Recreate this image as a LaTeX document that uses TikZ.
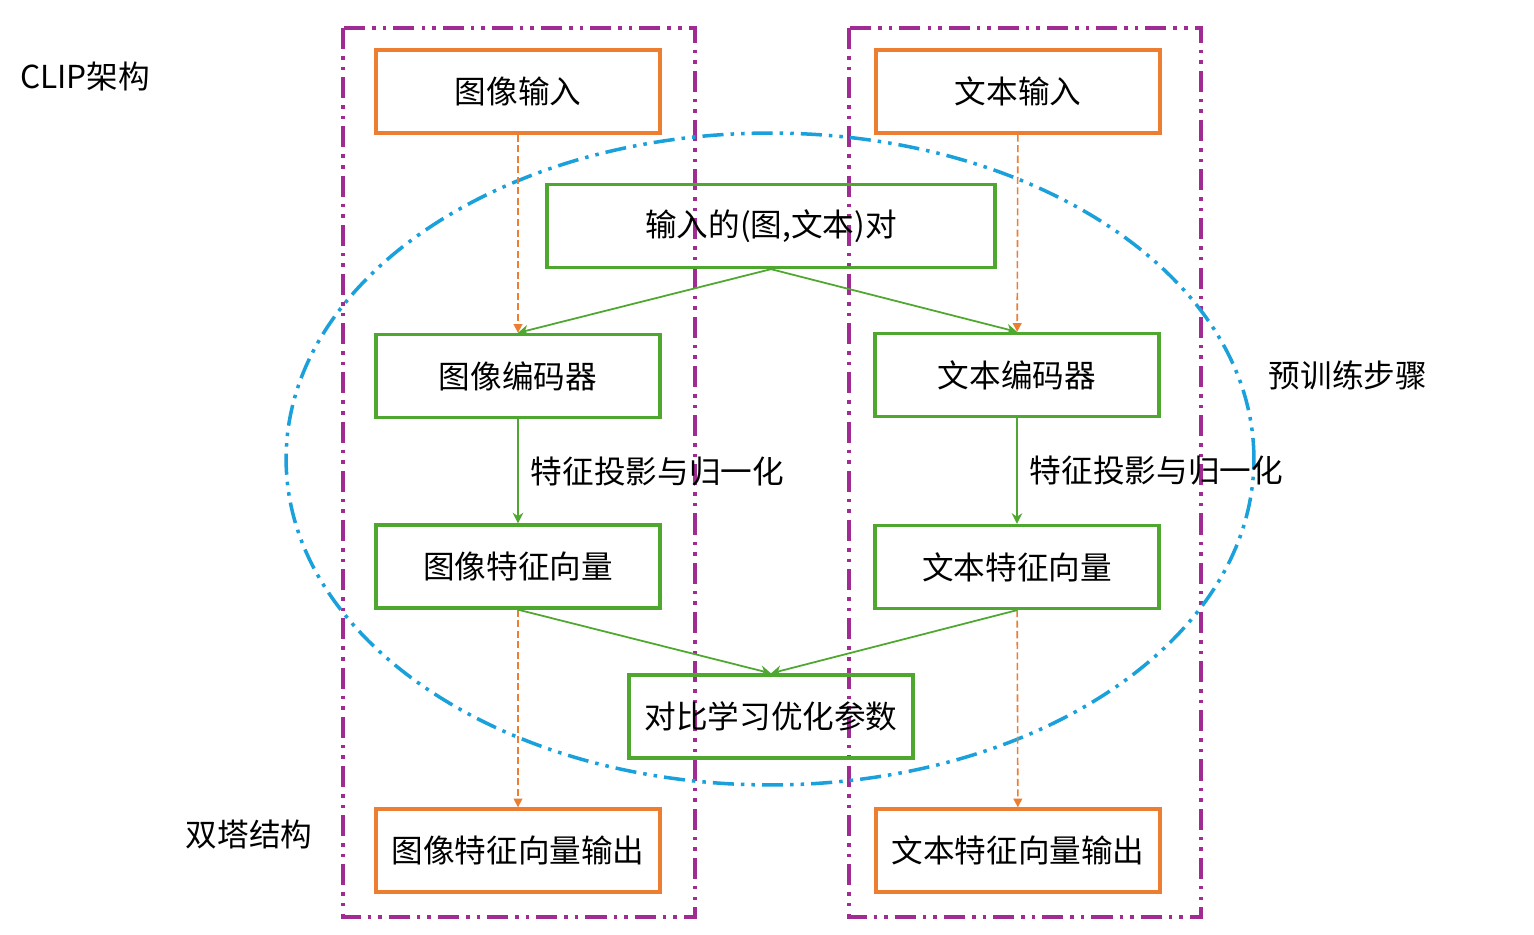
\documentclass[tikz,border=0pt]{standalone}
\usepackage{fontspec}
\setmainfont{Noto Sans CJK SC}
\usetikzlibrary{arrows.meta}
\definecolor{clipOrange}{HTML}{ED7D31}
\definecolor{clipGreen}{HTML}{4EA72E}
\definecolor{clipPurple}{HTML}{A02B93}
\definecolor{clipBlue}{HTML}{1AA0DA}
\tikzset{
  iobox/.style={draw=clipOrange, line width=1.9pt, rectangle, align=center, minimum width=5.68cm, minimum height=1.66cm},
  stepbox/.style={draw=clipGreen, line width=1.9pt, rectangle, align=center, minimum width=5.68cm, minimum height=1.66cm},
  tower/.style={draw=clipPurple, line width=2pt, dash pattern=on 12pt off 4pt on 2pt off 4pt on 2pt off 4pt},
  phase/.style={draw=clipBlue, line width=2pt, dash pattern=on 12pt off 4pt on 2pt off 4pt on 2pt off 4pt},
  flow/.style={draw=clipGreen, line width=1pt, -{Stealth[length=6pt,width=6pt]}},
  pass/.style={draw=clipOrange, line width=0.9pt, dash pattern=on 4pt off 2pt, -{Triangle[length=5pt,width=5pt]}}
}
\begin{document}
\begin{tikzpicture}[x=0.02cm, y=-0.02cm, font=\fontsize{18}{21}\selectfont]
\useasboundingbox (0,0) rectangle (1534,935);
% two towers and the training region
\draw[tower] (343,28) rectangle (695,917);
\draw[tower] (849,28) rectangle (1201,917);
\draw[phase] (770,459) ellipse [x radius=9.68cm, y radius=6.52cm];
% side labels
\node (arch) at (85,77) {CLIP架构};
\node (twin) at (249,834) {双塔结构};
\node (train) at (1348,375) {预训练步骤};
% boxes
\node[iobox] (imgin) at (518,91.5) {图像输入};
\node[iobox] (txtin) at (1018,91.5) {文本输入};
\node[stepbox, minimum width=8.96cm] (pair) at (771,226) {输入的(图,文本)对};
\node[stepbox] (imgenc) at (518,376) {图像编码器};
\node[stepbox] (txtenc) at (1017,375) {文本编码器};
\node[stepbox] (imgvec) at (518,566.5) {图像特征向量};
\node[stepbox] (txtvec) at (1017,567) {文本特征向量};
\node[stepbox] (contrast) at (771,716.5) {对比学习优化参数};
\node[iobox] (imgout) at (518,850.5) {图像特征向量输出};
\node[iobox] (txtout) at (1018,850.5) {文本特征向量输出};
% connectors
\draw[pass] (imgin) -- (imgenc);
\draw[pass] (txtin) -- (txtenc);
\draw[pass] (imgvec) -- (imgout);
\draw[pass] (txtvec) -- (txtout);
\draw[flow] (pair.south) -- (imgenc.north);
\draw[flow] (pair.south) -- (txtenc.north);
\draw[flow] (imgenc) -- node[right=3.5pt] {特征投影与归一化} (imgvec);
\draw[flow] (txtenc) -- node[right=3.5pt] {特征投影与归一化} (txtvec);
\draw[flow] (imgvec.south) -- (contrast.north);
\draw[flow] (txtvec.south) -- (contrast.north);
\end{tikzpicture}
\end{document}
